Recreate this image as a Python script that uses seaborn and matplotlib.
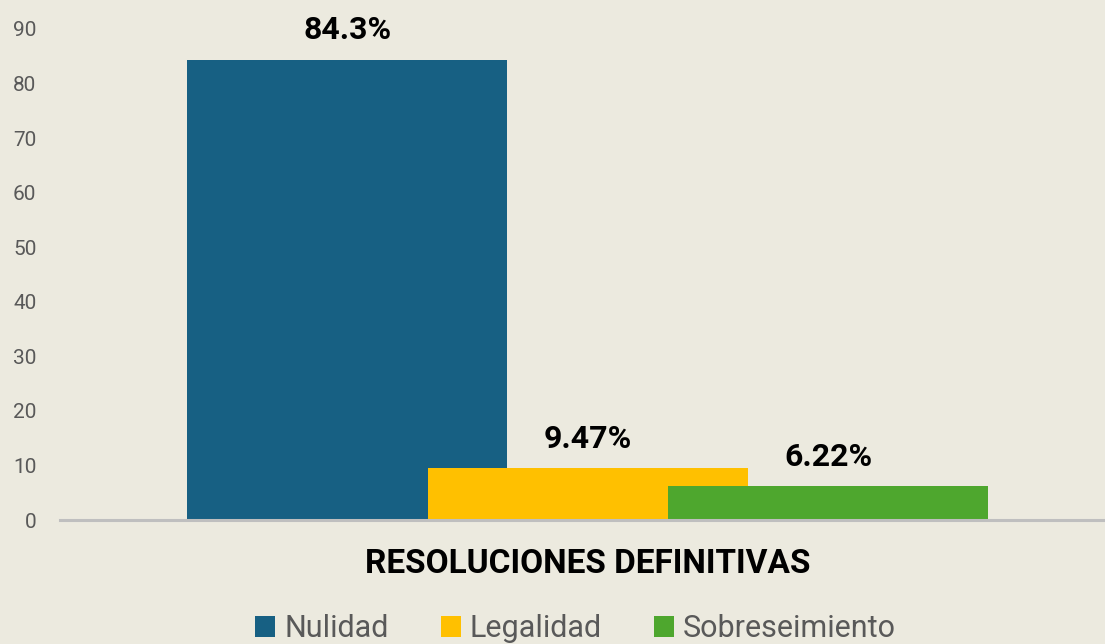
import pandas as pd
import seaborn as sns
import matplotlib.pyplot as plt

# Data
grupo = ["RESOLUCIONES DEFINITIVAS"]
tipos = ["Nulidad", "Legalidad", "Sobreseimiento"]
porcentajes = [84.3, 9.47, 6.22]
etiquetas = ["84.3%", "9.47%", "6.22%"]
colores = ["#176083", "#FFC000", "#4EA72E"]

df = pd.DataFrame({"grupo": grupo * len(tipos), "tipo": tipos, "pct": porcentajes})

bg = "#ECEADF"
sns.set_theme(style="white", rc={"axes.facecolor": bg, "figure.facecolor": bg})
plt.rcParams["font.family"] = ["Roboto", "DejaVu Sans"]

fig = plt.figure(figsize=(11.05, 6.44), dpi=100)
ax = fig.add_axes([0.0543, 0.1925, 0.9457, 0.7625])

sns.barplot(data=df, x="grupo", y="pct", hue="tipo", palette=colores,
            width=0.69, saturation=1, linewidth=0, ax=ax, legend=True)

# widen bars so they overlap like the original
for bar in ax.patches[:3]:
    c = bar.get_x() + bar.get_width() / 2
    bar.set_width(0.306)
    bar.set_x(c - 0.153)

for cont, lab in zip(ax.containers, etiquetas):
    ax.bar_label(cont, labels=[lab], padding=10.5, fontsize=23, fontweight="bold", color="black")

ax.set_ylim(0, 90)
ax.set_xlim(-0.505, 0.495)
ax.set_yticks(range(0, 91, 10))
ax.tick_params(axis="y", length=0, pad=17, labelsize=15, labelcolor="#595959")
ax.tick_params(axis="x", length=0, pad=20, labelsize=24)
for t in ax.get_xticklabels():
    t.set_fontweight("bold")
    t.set_color("black")
ax.set_xlabel("")
ax.set_ylabel("")

sns.despine(ax=ax, left=True)
ax.spines["bottom"].set_color("#BFBFBF")
ax.spines["bottom"].set_linewidth(2.2)

handles, labels = ax.get_legend_handles_labels()
ax.legend(handles, labels, loc="center", bbox_to_anchor=(0.521, 0.024),
          bbox_transform=fig.transFigure, ncol=3, frameon=False, fontsize=22,
          labelcolor="#595959", handlelength=0.65, handleheight=0.65,
          handletextpad=0.3, columnspacing=1.7)

plt.savefig("out.png", dpi=100, facecolor=bg)
